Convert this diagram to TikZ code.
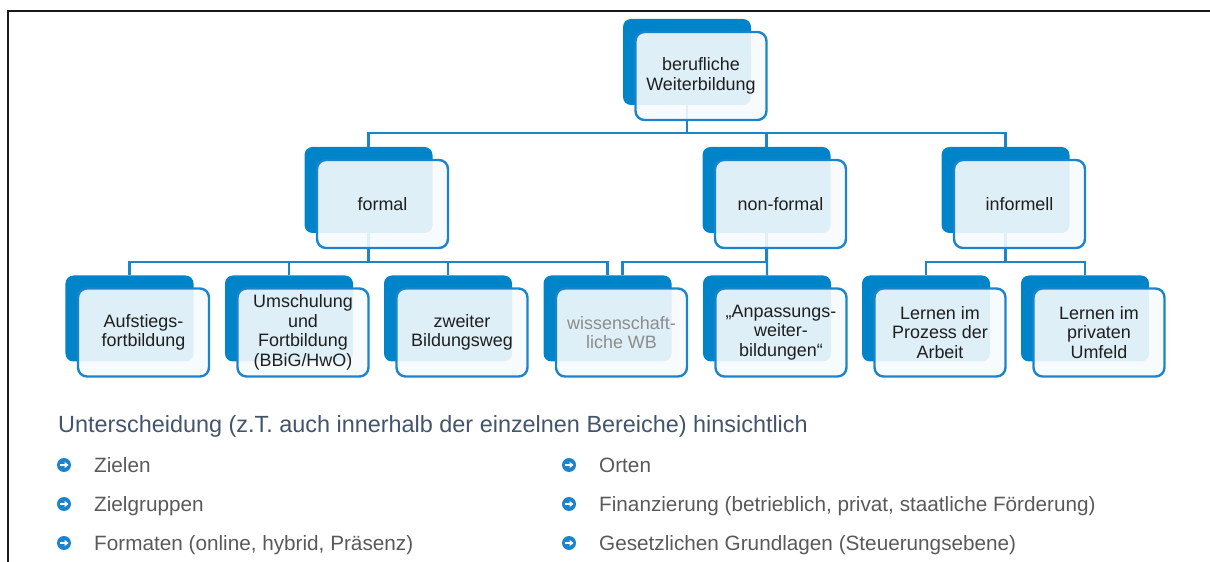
\documentclass[tikz,border=0pt]{standalone}
\usepackage{fontspec}
\setmainfont{Liberation Sans}
\usetikzlibrary{arrows.meta,backgrounds,calc,positioning}
\definecolor{wbblue}{RGB}{0,132,201}
\definecolor{wbline}{RGB}{28,132,204}
\definecolor{wbhead}{RGB}{68,84,106}
\definecolor{wbtext}{RGB}{89,89,89}
\tikzset{%
	backbox/.style  = {fill=wbblue, rounded corners=8bp, minimum width=128bp, minimum height=86bp, inner sep=0pt},
	frontbox/.style = {draw=wbline, line width=2.4bp, fill=white!97!wbblue, fill opacity=0.9, text opacity=1, rounded corners=9bp, minimum width=131bp, minimum height=88bp, inner sep=0pt, align=center, text={black!88}, font=\fontsize{18}{19.6}\selectfont},
	conn/.style     = {draw=wbline, line width=2.3bp},
	bullet/.style   = {circle, fill=wbline, minimum size=14bp, inner sep=0pt},
	itemtext/.style = {anchor=base west, inner sep=0pt, text=wbtext, font=\fontsize{20.8}{24}\selectfont},
}
\begin{document}
\begin{tikzpicture}[x=1bp,y=-1bp]
	\useasboundingbox (0,0) rectangle (1210,562);
	\draw[line width=2bp, black!90] (8,562) -- (8,11) -- (1210,11);  % frame
	% tree
	\node[backbox] (bwB) at (687,62) {};
	\node[frontbox] (bw) at ([shift={(14,14)}]bwB.center) {berufliche\\Weiterbildung};
	\node[backbox] (formalB) at (368.5,190) {};
	\node[frontbox] (formal) at ([shift={(14,14)}]formalB.center) {formal};
	\node[backbox] (nonformalB) at (766.5,190) {};
	\node[frontbox] (nonformal) at ([shift={(14,14)}]nonformalB.center) {non-formal};
	\node[backbox] (informellB) at (1005.5,190) {};
	\node[frontbox] (informell) at ([shift={(14,14)}]informellB.center) {informell};
	\node[backbox] (aufstiegB) at (129.5,318.5) {};
	\node[frontbox] (aufstieg) at ([shift={(14,14)}]aufstiegB.center) {Aufstiegs-\\fortbildung};
	\node[backbox] (umschulB) at (289,318.5) {};
	\node[frontbox] (umschul) at ([shift={(14,14)}]umschulB.center) {Umschulung\\und\\Fortbildung\\(BBiG/HwO)};
	\node[backbox] (zweiterB) at (448,318.5) {};
	\node[frontbox] (zweiter) at ([shift={(14,14)}]zweiterB.center) {zweiter\\Bildungsweg};
	\node[backbox] (wissB) at (607.5,318.5) {};
	\node[frontbox, text=black!45] (wiss) at ([shift={(14,14)}]wissB.center) {wissenschaft-\\liche WB};
	\node[backbox] (anpassB) at (767,318.5) {};
	\node[frontbox] (anpass) at ([shift={(14,14)}]anpassB.center) {„Anpassungs-\\weiter-\\bildungen“};
	\node[backbox] (lprozessB) at (926,318.5) {};
	\node[frontbox] (lprozess) at ([shift={(14,14)}]lprozessB.center) {Lernen im\\Prozess der\\Arbeit};
	\node[backbox] (lprivatB) at (1085,318.5) {};
	\node[frontbox] (lprivat) at ([shift={(14,14)}]lprivatB.center) {Lernen im\\privaten\\Umfeld};
	% connectors
	\begin{scope}[on background layer]
		\coordinate (bar1) at (0,133);
		\coordinate (bar2) at (0,262);
		\foreach \c in {formal,nonformal,informell}
			\draw[conn] (bwB.center) |- (bar1 -| \c B) -- (\c B.north);
		\foreach \c in {aufstieg,umschul,zweiter,wiss}
			\draw[conn] (formalB.center) |- (bar2 -| \c B) -- (\c B.north);
		\coordinate (wissin) at ([xshift=15bp]wissB.north);
		\draw[conn] (nonformalB.center) |- (bar2 -| wissin) -- (wissin);
		\draw[conn] (nonformalB.center) -- (anpassB.north);
		\foreach \c in {lprozess,lprivat}
			\draw[conn] (informellB.center) |- (bar2 -| \c B) -- (\c B.north);
	\end{scope}
	% list below
	\node[anchor=base west, inner sep=0pt, text=wbhead, font=\fontsize{23.5}{28}\selectfont] (head) at (58,432) {Unterscheidung (z.T. auch innerhalb der einzelnen Bereiche) hinsichtlich};
	\foreach \n/\x/\y/\txt in {1/64/465/Zielen, 2/64/504/Zielgruppen, 3/64/543/{Formaten (online, hybrid, Präsenz)}, 4/569/465/Orten, 5/569/504/{Finanzierung (betrieblich, privat, staatliche Förderung)}, 6/569/543/{Gesetzlichen Grundlagen (Steuerungsebene)}} {
		\node[bullet] (b\n) at (\x,\y) {};
		\draw[white, line width=1.8bp, -{Triangle[length=4bp,width=6bp]}] ([xshift=-4bp]b\n.center) -- ([xshift=4.5bp]b\n.center);
		\node[itemtext] (t\n) at ([shift={(30,7)}]b\n.center) {\txt};
	}
\end{tikzpicture}
\end{document}
